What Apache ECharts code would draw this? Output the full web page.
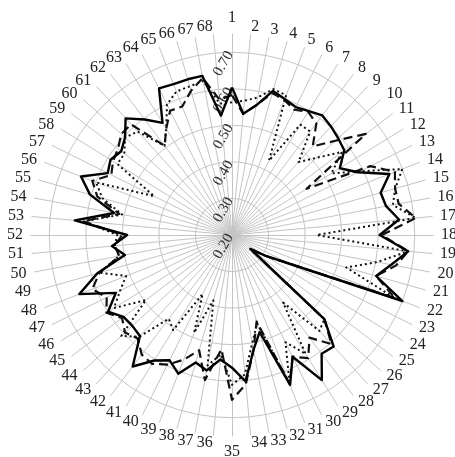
<!DOCTYPE html>
<html>
<head>
<meta charset="utf-8">
<script src="https://cdn.jsdelivr.net/npm/echarts@6/dist/echarts.min.js"></script>
<style>
html,body{margin:0;padding:0;background:#fff;}
#chart{width:455px;height:457px;}
</style>
</head>
<body>
<div id="chart"></div>
<script>
const categories = ['1','2','3','4','5','6','7','8','9','10','11','12','13','14','15','16','17','18','19','20',
  '21','22','23','24','25','26','27','28','29','30','31','32','33','34','35','36','37','38','39','40',
  '41','42','43','44','45','46','47','48','49','50','51','52','53','54','55','56','57','58','59','60',
  '61','62','63','64','65','66','67','68'];

const radialTicks = ['0.20','0.30','0.40','0.50','0.60','0.70'];

const solidValues = [0.604,0.533,0.561,0.610,0.599,0.591,0.599,0.610,0.602,0.593,
  0.585,0.547,0.585,0.662,0.623,0.629,0.659,0.604,0.684,0.643,
  0.610,0.700,0.378,0.309,0.263,0.542,0.613,0.607,0.667,0.572,
  0.640,0.476,0.520,0.602,0.563,0.542,0.577,0.563,0.607,0.583,
  0.604,0.651,0.574,0.569,0.572,0.599,0.555,0.648,0.583,0.498,
  0.530,0.487,0.632,0.528,0.604,0.643,0.580,0.591,0.580,0.596,
  0.632,0.596,0.561,0.648,0.643,0.643,0.643,0.528];

const dashedValues = [0.583,0.533,0.561,0.604,0.596,0.583,0.596,0.583,0.528,0.583,
  0.659,0.440,0.623,0.678,0.664,0.664,0.705,0.610,0.684,0.656,
  0.610,0.678,0.378,0.309,0.263,0.542,0.604,0.552,0.596,0.572,
  0.637,0.446,0.520,0.610,0.651,0.514,0.604,0.528,0.566,0.596,
  0.615,0.610,0.583,0.596,0.577,0.604,0.583,0.610,0.577,0.514,
  0.522,0.501,0.610,0.514,0.583,0.610,0.569,0.583,0.591,0.610,
  0.610,0.506,0.542,0.580,0.577,0.610,0.637,0.572];

const dottedValues = [0.563,0.569,0.583,0.615,0.610,0.427,0.555,0.555,0.470,0.514,
  0.577,0.520,0.591,0.700,0.664,0.648,0.705,0.432,0.684,0.604,
  0.525,0.678,0.378,0.309,0.263,0.542,0.555,0.432,0.583,0.528,
  0.637,0.451,0.501,0.583,0.610,0.528,0.563,0.386,0.487,0.380,
  0.506,0.487,0.577,0.610,0.495,0.580,0.542,0.511,0.577,0.514,
  0.522,0.514,0.607,0.506,0.569,0.599,0.438,0.569,0.569,0.596,
  0.583,0.506,0.542,0.599,0.621,0.623,0.629,0.561];

// ECharts radar runs counter-clockwise; reorder so the indicators run clockwise.
const order = [0];
for (let i = categories.length - 1; i >= 1; i--) order.push(i);
const reorder = arr => order.map(i => arr[i]);

const serif = 'Liberation Serif';
const indicator = order.map((idx, j) => {
  const ind = { name: categories[idx], min: 0.2, max: 0.75 };
  if (j === 0) {
    ind.axisLabel = {
      show: true,
      rotate: 60,
      margin: 2,
      fontFamily: serif,
      fontSize: 15,
      color: '#333',
      formatter: function (v) {
        const s = Number(v).toFixed(2);
        return radialTicks.indexOf(s) >= 0 && Math.abs(Number(v) - Number(s)) < 0.001 ? s : '';
      }
    };
  }
  return ind;
});

// grid circles only at 0.20, 0.30, ... 0.70 (ticks every 0.05)
const ringColors = [];
for (let i = 0; i < 12; i++) ringColors.push(i % 2 === 0 ? '#c4c4c4' : 'rgba(0,0,0,0)');

const chart = echarts.init(document.getElementById('chart'), null, { renderer: 'canvas' });
chart.setOption({
  animation: false,
  backgroundColor: '#fff',
  radar: {
    center: [232, 235],
    radius: 201,
    startAngle: 90,
    splitNumber: 11,
    shape: 'circle',
    indicator: indicator,
    nameGap: 8,
    axisName: { color: '#222', fontFamily: serif, fontSize: 16 },
    axisLine: { lineStyle: { color: '#c4c4c4', width: 1 } },
    splitLine: { lineStyle: { color: ringColors, width: 1 } },
    splitArea: { show: false },
    axisTick: { show: false },
    axisLabel: { show: false }
  },
  series: [{
    type: 'radar',
    symbol: 'none',
    data: [
      { name: 'dotted', value: reorder(dottedValues),
        lineStyle: { color: '#111', width: 2, type: [2, 3] } },
      { name: 'dashed', value: reorder(dashedValues),
        lineStyle: { color: '#111', width: 2.2, type: [9, 5] } },
      { name: 'solid', value: reorder(solidValues),
        lineStyle: { color: '#000', width: 2.4, type: 'solid' } }
    ]
  }]
});
</script>
</body>
</html>
